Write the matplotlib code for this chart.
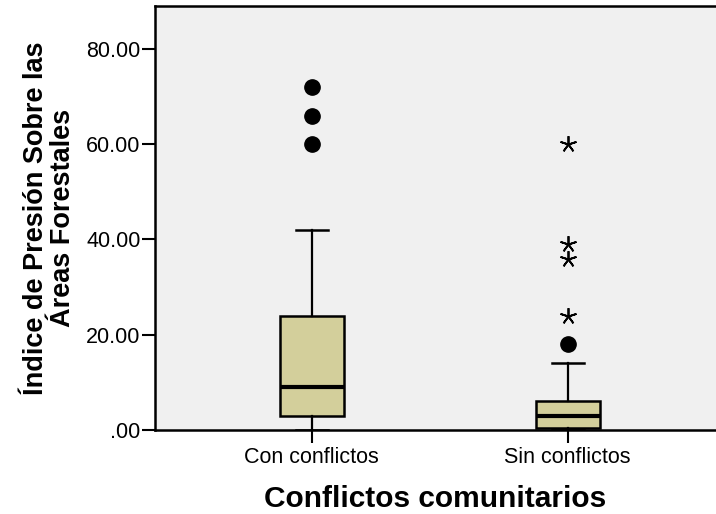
import matplotlib.pyplot as plt
from matplotlib.ticker import FuncFormatter

plt.rcParams['font.family'] = ['Liberation Sans', 'DejaVu Sans']

# datos
grupos = ['Con conflictos', 'Sin conflictos']
q1 = [3.0, 0.5]
mediana = [9.0, 3.0]
q3 = [24.0, 6.0]
bigote_inf = [0.0, 0.0]
bigote_sup = [42.0, 14.0]
atipicos = [[60.0, 66.0, 72.0], [18.0]]      # circulos
extremos = [[], [24.0, 36.0, 39.0, 60.0]]    # estrellas

stats = []
for i in range(len(grupos)):
    stats.append({'med': mediana[i], 'q1': q1[i], 'q3': q3[i],
                  'whislo': bigote_inf[i], 'whishi': bigote_sup[i],
                  'fliers': [], 'label': grupos[i]})

fig = plt.figure(figsize=(7.16, 5.14), dpi=100)
ax = fig.add_axes([0.2165, 0.1634, 0.7835, 0.8249])
ax.set_facecolor('#f0f0f0')

pos = [1, 2]
ax.bxp(stats, positions=pos, widths=0.25, patch_artist=True, showfliers=False,
       boxprops=dict(facecolor='#d3cf9b', edgecolor='black', linewidth=1.8),
       medianprops=dict(color='black', linewidth=3),
       whiskerprops=dict(color='black', linewidth=1.6),
       capprops=dict(color='black', linewidth=1.8), capwidths=0.125)

for i in range(len(grupos)):
    ax.plot([pos[i]] * len(atipicos[i]), atipicos[i], 'o', color='black',
            markersize=11, linestyle='none')
    ax.plot([pos[i]] * len(extremos[i]), extremos[i], marker=(5, 2, 0),
            color='black', markersize=12, markeredgewidth=1.3, linestyle='none')

ax.set_xlim(0.387, 2.58)
ax.set_ylim(0, 89)
ax.set_yticks([0, 20, 40, 60, 80])
ax.yaxis.set_major_formatter(FuncFormatter(lambda v, p: '.00' if v == 0 else '%.2f' % v))
ax.set_xticks(pos)
ax.set_xticklabels(grupos)
ax.tick_params(axis='both', length=9.5, width=1.5, labelsize=15.5, color='black')
ax.tick_params(axis='y', pad=1)
ax.tick_params(axis='x', pad=3)

for s in ['left', 'bottom', 'top']:
    ax.spines[s].set_linewidth(1.8)
ax.spines['right'].set_visible(False)

ax.set_xlabel('Conflictos comunitarios', fontsize=21.5, fontweight='bold', labelpad=12)
ax.set_ylabel('Índice de Presión Sobre las\nÁreas Forestales', fontsize=19.5,
              fontweight='bold', labelpad=7, linespacing=1.05)

fig.savefig('out.png', dpi=100)
